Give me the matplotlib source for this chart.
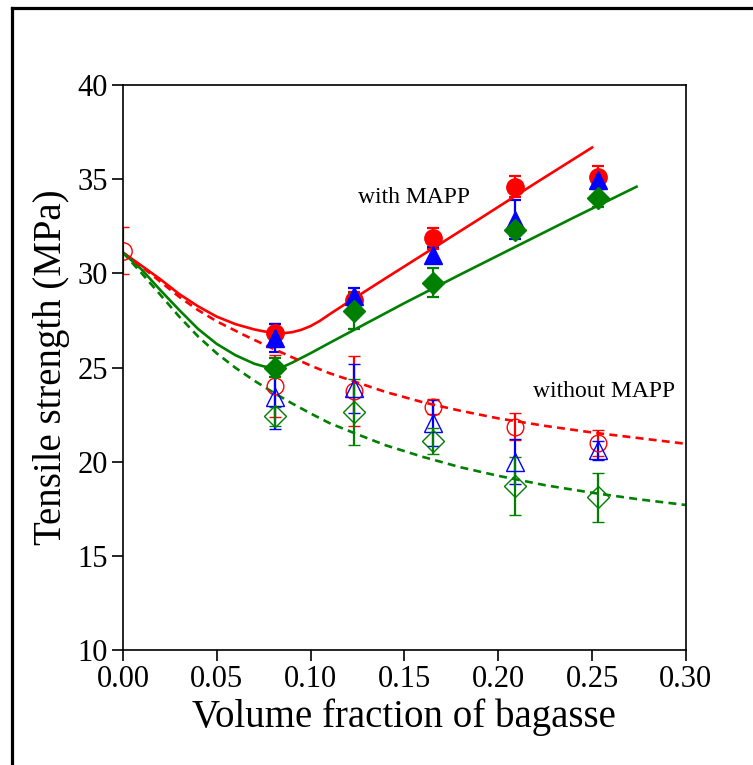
import matplotlib
matplotlib.use("Agg")
import matplotlib.pyplot as plt
from matplotlib.lines import Line2D

plt.rcParams['font.family'] = ['Liberation Serif', 'DejaVu Serif']

# measured points (volume fraction of bagasse)
vf = [0.081, 0.123, 0.165, 0.209, 0.253]
vf0 = [0.0]
ts0 = [31.2]
err0 = [1.25]

# with MAPP (filled)
red_w = [26.85, 28.6, 31.85, 34.6, 35.1]
red_w_err = [0.45, 0.4, 0.55, 0.55, 0.6]
blue_w = [26.55, 28.8, 31.0, 32.85, 34.95]
blue_w_err = [0.75, 0.4, 0.4, 1.05, 0.3]
green_w = [25.0, 28.0, 29.5, 32.3, 34.0]
green_w_err = [0.5, 0.95, 0.77, 0.3, 0.5]

# without MAPP (open)
red_wo = [24.0, 23.75, 22.92, 21.86, 20.98]
red_wo_err = [1.65, 1.85, 0.4, 0.7, 0.7]
blue_wo = [23.45, 23.9, 22.05, 20.0, 20.6]
blue_wo_err = [1.7, 1.3, 1.2, 1.2, 0.5]
green_wo = [22.42, 22.65, 21.1, 18.72, 18.1]
green_wo_err = [0.5, 1.75, 0.7, 1.55, 1.28]

# model curves
red_fit_x = [0, 0.005, 0.01, 0.02, 0.03, 0.04, 0.05, 0.06, 0.07, 0.075, 0.08,
             0.085, 0.09, 0.095, 0.10, 0.105, 0.11, 0.12, 0.14, 0.16, 0.19,
             0.22, 0.25]
red_fit_y = [31.1, 30.75, 30.4, 29.68, 28.9, 28.25, 27.7, 27.3, 27.02, 26.92,
             26.85, 26.82, 26.87, 27.0, 27.2, 27.48, 27.82, 28.47, 29.74,
             31.0, 32.89, 34.8, 36.68]
green_fit_x = [0, 0.005, 0.01, 0.02, 0.03, 0.04, 0.05, 0.06, 0.07, 0.075, 0.08,
               0.085, 0.09, 0.10, 0.11, 0.123, 0.15, 0.18, 0.21, 0.24, 0.2737]
green_fit_y = [31.1, 30.65, 30.2, 29.1, 28.05, 27.05, 26.25, 25.65, 25.2,
               25.06, 24.98, 25.02, 25.25, 25.76, 26.3, 26.99, 28.42, 29.95,
               31.45, 32.95, 34.6]
red_dash_x = [0, 0.01, 0.02, 0.03, 0.04, 0.05, 0.065, 0.08, 0.09, 0.10, 0.11,
              0.125, 0.14, 0.16, 0.18, 0.20, 0.225, 0.25, 0.275, 0.30]
red_dash_y = [31.1, 30.35, 29.55, 28.75, 28.05, 27.45, 26.7, 26.0, 25.55, 25.1,
              24.7, 24.2, 23.7, 23.15, 22.7, 22.3, 21.9, 21.55, 21.25, 20.95]
green_dash_x = [0, 0.01, 0.02, 0.03, 0.04, 0.05, 0.06, 0.07, 0.08, 0.09, 0.10,
                0.11, 0.125, 0.14, 0.16, 0.18, 0.20, 0.225, 0.25, 0.275, 0.30]
green_dash_y = [31.1, 30.0, 28.85, 27.7, 26.65, 25.75, 24.98, 24.3, 23.68,
                23.1, 22.56, 22.05, 21.45, 20.87, 20.25, 19.7, 19.25, 18.75,
                18.35, 18.0, 17.7]

RED = '#ff0000'
BLUE = '#0000ff'
GREEN = '#008000'

fig = plt.figure(figsize=(7.53, 7.65), dpi=100)
ax = fig.add_axes([0.1633, 0.1503, 0.7476, 0.7386])

eb = dict(elinewidth=1.6, capsize=4.5, capthick=1.6, linestyle='none')

# without MAPP (open markers)
ax.errorbar(vf0, ts0, yerr=err0, marker='o', ms=12.5, mfc='none', mec=RED,
            mew=1.0, color=RED, **eb)
ax.errorbar(vf, red_wo, yerr=red_wo_err, marker='o', ms=12, mfc='none',
            mec=RED, mew=1.0, color=RED, **eb)
ax.errorbar(vf, blue_wo, yerr=blue_wo_err, marker='^', ms=13, mfc='none',
            mec=BLUE, mew=1.0, color=BLUE, **eb)
ax.errorbar(vf, green_wo, yerr=green_wo_err, marker='D', ms=11, mfc='none',
            mec=GREEN, mew=1.0, color=GREEN, **eb)

# with MAPP (filled markers)
ax.errorbar(vf, red_w, yerr=red_w_err, marker='o', ms=12.5, mfc=RED,
            mec=RED, color=RED, **eb)
ax.errorbar(vf, blue_w, yerr=blue_w_err, marker='^', ms=13, mfc=BLUE,
            mec=BLUE, color=BLUE, **eb)
ax.errorbar(vf, green_w, yerr=green_w_err, marker='D', ms=11, mfc=GREEN,
            mec=GREEN, color=GREEN, **eb)

# model curves
ax.plot(red_fit_x, red_fit_y, color=RED, lw=1.9)
ax.plot(green_fit_x, green_fit_y, color=GREEN, lw=1.9)
ax.plot(red_dash_x, red_dash_y, color=RED, lw=1.9, dashes=(3, 2))
ax.plot(green_dash_x, green_dash_y, color=GREEN, lw=1.9, dashes=(3, 2))

ax.text(0.1252, 33.75, 'with MAPP', fontsize=17)
ax.text(0.2185, 23.45, 'without MAPP', fontsize=17)

ax.set_xlim(0, 0.30)
ax.set_ylim(10, 40)
ax.set_xticks([0.00, 0.05, 0.10, 0.15, 0.20, 0.25, 0.30])
ax.set_xticklabels(['0.00', '0.05', '0.10', '0.15', '0.20', '0.25', '0.30'])
ax.set_yticks([10, 15, 20, 25, 30, 35, 40])
ax.tick_params(direction='out', length=8, width=1.2, labelsize=22, pad=3)
for s in ax.spines.values():
    s.set_linewidth(1.2)

ax.set_xlabel('Volume fraction of bagasse', fontsize=28, labelpad=3)
ax.set_ylabel('Tensile strength (MPa)', fontsize=28, labelpad=5)

# outer frame (only left and top edges are visible)
fig.add_artist(Line2D([11.5 / 753, 11.5 / 753], [0, 1 - 7.5 / 765],
                      transform=fig.transFigure, color='black', lw=2.3,
                      solid_capstyle='projecting'))
fig.add_artist(Line2D([11.5 / 753, 1], [1 - 7.5 / 765, 1 - 7.5 / 765],
                      transform=fig.transFigure, color='black', lw=2.3,
                      solid_capstyle='projecting'))

fig.savefig('out.png', dpi=100)
